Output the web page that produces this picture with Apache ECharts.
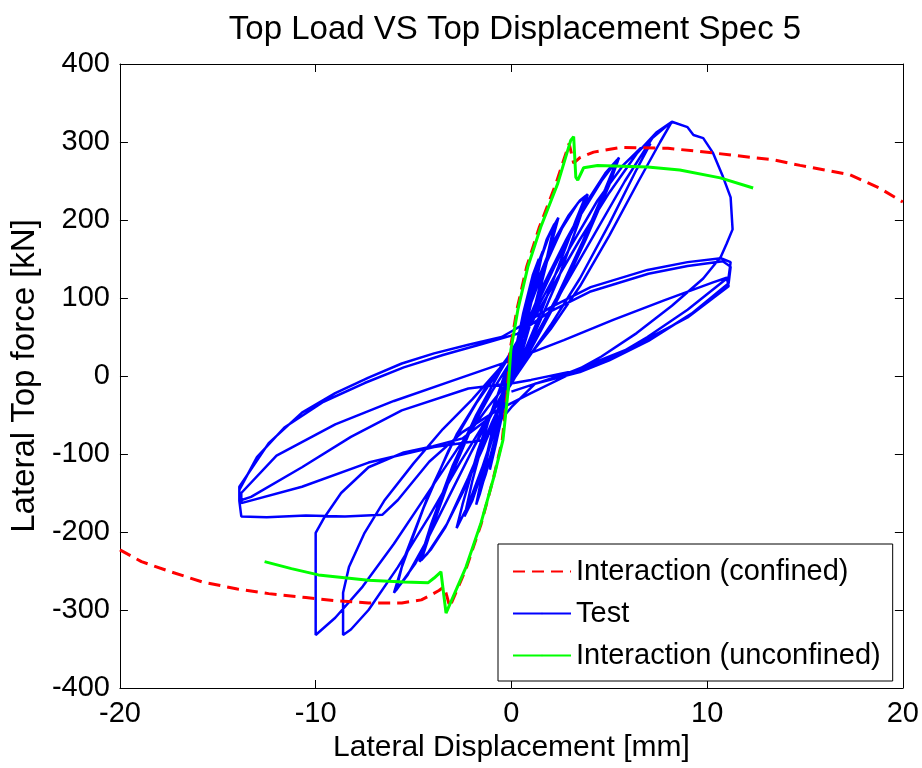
<!DOCTYPE html>
<html>
<head>
<meta charset="utf-8">
<script src="https://cdn.jsdelivr.net/npm/echarts@6/dist/echarts.min.js"></script>
<style>
html,body{margin:0;padding:0;background:#fff;}
#chart{width:922px;height:768px;}
</style>
</head>
<body>
<div id="chart"></div>
<script>
// ---- data (x: lateral displacement [mm], y: lateral top force [kN]) ----
var titleText = 'Top Load VS Top Displacement Spec 5';
var xAxisName = 'Lateral Displacement [mm]';
var yAxisName = 'Lateral Top force [kN]';
var seriesNames = ['Interaction (confined)', 'Test', 'Interaction (unconfined)'];
var xRange = [-20, 20, 10];
var yRange = [-400, 400, 100];

var confinedCurve = [
  [-20,-223],[-18.9,-238],[-17.4,-251],[-15.8,-264],[-14,-273],[-12.4,-279],[-10.5,-284],[-9.0,-288],
  [-7.3,-291],[-5.6,-291],[-4.6,-287],[-4.2,-282],[-3.7,-275],[-3.44,-270],[-3.3,-282],[-3.15,-296],
  [-2.3,-246],[-1.55,-190],[-0.92,-131],[-0.47,-83],[-0.22,-22],[-0.07,33],[0.28,85],[0.78,140],
  [1.43,191],[2.28,247],[2.95,298],[3.03,299],[3.18,273],[3.5,280],[4.2,287],[5.6,293],[8.0,292],
  [10.3,286],[13.4,277],[14.75,270],[17.3,258],[18.8,241],[20,223]
];

var unconfinedCurve = [
  [-12.61,-238],[-11.24,-247],[-9.86,-255],[-7.31,-262],[-5.5,-264],[-4.25,-265],[-3.95,-259],
  [-3.6,-251],[-3.34,-304],[-2.32,-245],[-1.55,-188],[-0.89,-129],[-0.43,-82],[-0.18,-22],
  [-0.03,33],[0.33,85],[0.84,140],[1.5,191],[2.37,247],[3.03,302],[3.18,307],[3.29,255],
  [3.39,251],[3.69,267],[4.4,270],[6.96,268],[8.6,264],[10.67,254],[12.35,241]
];

var testCurve = [
  // small cycles
  [0,0],[0.3,45],[0.7,90],[1.0,118],[0.8,92],[0.4,40],[0.0,0],[-0.4,-42],[-0.8,-88],[-1.1,-120],[-0.9,-92],[-0.5,-45],[-0.1,-5],
  [0.2,30],[0.6,80],[1.1,130],[1.4,150],[1.1,110],[0.5,45],[-0.2,-15],[-0.7,-70],[-1.3,-125],[-1.5,-140],[-1.2,-100],[-0.6,-35],[0.0,10],
  [0.3,38],[0.8,95],[1.3,140],[1.6,160],[1.3,125],[0.7,60],[0.1,5],[-0.5,-48],[-1.1,-105],[-1.6,-150],[-1.8,-165],[-1.5,-128],[-0.9,-62],[-0.3,-8],
  [0.5,60],[1.2,125],[1.8,175],[2.2,195],[1.8,150],[1.0,70],[0.2,10],[-0.6,-50],[-1.4,-115],[-2.0,-160],[-2.4,-180],[-2.0,-135],[-1.2,-60],[-0.3,5],
  [0.3,42],[0.9,100],[1.5,150],[2.0,185],[2.4,203],[2.1,175],[1.4,105],[0.6,35],[-0.1,-12],[-0.8,-65],[-1.5,-118],[-2.2,-165],[-2.8,-195],[-2.5,-165],[-1.7,-95],[-0.8,-30],[0.0,15],
  // +3.8 / -4.6
  [0.6,65],[1.3,120],[2.1,170],[2.9,205],[3.5,225],[3.8,231],[3.3,200],[2.4,140],[1.4,75],[0.4,15],[-0.5,-35],[-1.5,-95],[-2.5,-150],[-3.4,-195],[-4.1,-222],[-4.6,-236],[-4.2,-205],[-3.2,-135],[-2.1,-70],[-1.0,-20],[0.0,20],
  [0.8,80],[1.7,140],[2.6,190],[3.4,222],[3.9,233],[3.4,195],[2.4,125],[1.2,55],[0.1,0],[-1.0,-60],[-2.2,-130],[-3.3,-190],[-4.3,-228],[-4.7,-238],[-4.1,-190],[-3.0,-115],[-1.8,-50],[-0.6,5],
  // +5.4 / -6.0
  [0.5,50],[1.6,115],[2.8,175],[3.9,225],[4.8,260],[5.4,277],[4.8,240],[3.6,170],[2.3,100],[1.0,40],[-0.3,-15],[-1.6,-75],[-3.0,-145],[-4.3,-210],[-5.3,-255],[-6.0,-278],[-5.6,-245],[-4.5,-170],[-3.2,-95],[-1.8,-35],[-0.4,15],
  [0.9,70],[2.2,140],[3.5,205],[4.6,250],[5.5,280],[5.0,245],[3.8,175],[2.4,100],[0.9,30],[-0.6,-30],[-2.1,-100],[-3.6,-175],[-4.9,-240],[-5.9,-275],[-5.5,-235],[-4.2,-150],[-2.8,-75],[-1.2,-10],
  // +7.1 / -8.6
  [0.2,35],[1.6,100],[3.0,165],[4.4,225],[5.7,270],[6.6,292],[7.1,298],[6.4,265],[5.0,195],[3.5,125],[2.0,65],[0.5,10],[-1.0,-45],[-2.6,-110],[-4.2,-180],[-5.8,-245],[-7.3,-300],[-8.2,-325],[-8.6,-332],[-8.6,-300],[-8.6,-278],[-8.3,-245],[-7.5,-201],[-6.5,-160],[-5.0,-112],[-3.5,-68],[-2.0,-30],[-0.6,10],
  // +8.2 peak / -10
  [0.6,50],[2.0,110],[3.5,175],[5.0,235],[6.4,285],[7.4,312],[8.2,326],[7.6,300],[6.5,250],[5.0,180],[3.5,115],[2.0,60],[0.4,10],[-1.2,-40],[-2.8,-95],[-4.4,-155],[-6.0,-215],[-7.6,-270],[-9.0,-310],[-10.0,-332],[-10.0,-290],[-10.0,-240],[-10.0,-201],[-9.55,-181],[-8.7,-150],[-7.3,-117],[-5.5,-98],[-4.0,-90],[-2.5,-80],[-1.2,-55],
  // post-peak +11.3 / -13.8 plateau
  [0.0,-10],[1.2,45],[2.6,110],[4.2,180],[5.8,250],[7.2,305],[8.0,322],[8.2,326],[9.0,319],[9.3,309],[9.8,305],[10.3,286],[10.8,256],[11.2,229],[11.3,188],[11.0,170],[10.7,153],[9.8,125],[8.2,90],[6.4,55],[4.6,25],[2.8,0],[1.0,-22],[-0.8,-45],[-2.5,-72],[-4.2,-110],[-5.8,-159],[-6.6,-178],[-8.5,-180],[-10.5,-179],[-12.5,-181],[-13.8,-180],[-13.9,-160],[-13.9,-142],
  [-12.4,-86],[-10.7,-47],[-9.0,-22],[-7.3,-2],[-5.6,16],[-3.95,29],[-2.2,40],[-0.5,50],[0.13,59],[2.0,88],[4.05,114],[6.95,136],[9.0,146],[10.7,151],[11.2,146],[11.1,127],
  [9.0,85],[6.95,50],[5.2,24],[3.5,8],[1.0,-5],[0.13,-9],[-2.2,-16],[-5.6,-44],[-8.2,-78],[-10.7,-117],[-13.3,-155],[-13.9,-160],[-13.9,-146],
  [-13.0,-104],[-11.6,-66],[-9.6,-33],[-7.5,-9],[-5.5,11],[-3.5,27],[-1.5,41],[0.3,54],[2.0,83],[4.0,108],[7.0,131],[9.0,141],[10.8,147],[11.2,140],[11.1,119],
  [9.2,80],[7.0,45],[5.0,20],[3.5,5],[1.2,-10],[0.0,-40],[-1.4,-82],[-3.95,-91],[-7.3,-111],[-10.7,-142],[-13.8,-163],[-13.8,-150],
  [-12.0,-102],[-9.0,-62],[-6.0,-32],[-3.0,-6],[0.0,20],[2.68,46],[5.2,72],[7.8,97],[10.3,120],[11.0,126],[11.1,115],
  [9.0,75],[6.0,35],[3.0,5],[0.0,-20]
];

var chart = echarts.init(document.getElementById('chart'), null, {renderer: 'canvas'});
var FONT = 'Liberation Sans, Arial, Helvetica, sans-serif';

function frameAxis(pos, rng, isX, main) {
  var ax = {
    type: 'value', position: pos, min: rng[0], max: rng[1], interval: rng[2],
    axisLine: {show: true, onZero: false, lineStyle: {color: '#000', width: 1}},
    axisTick: {show: true, inside: true, length: 8, lineStyle: {color: '#000', width: 1}},
    splitLine: {show: false},
    axisLabel: {show: main, color: '#000', fontSize: 29, fontFamily: FONT, margin: isX ? 11 : 10}
  };
  if (main) {
    ax.name = isX ? xAxisName : yAxisName;
    ax.nameLocation = 'middle';
    ax.nameGap = isX ? 38 : 63;
    ax.nameTextStyle = {color: '#000', fontSize: isX ? 30 : 33, fontFamily: FONT};
  }
  return ax;
}

chart.setOption({
  animation: false,
  backgroundColor: '#fff',
  title: {
    text: titleText, left: 510, top: 8, textAlign: 'center',
    textStyle: {color: '#000', fontSize: 33, fontWeight: 'normal', fontFamily: FONT}
  },
  grid: {left: 118, right: 19, top: 64, bottom: 80, containLabel: false},
  xAxis: [frameAxis('bottom', xRange, true, true), frameAxis('top', xRange, true, false)],
  yAxis: [frameAxis('left', yRange, false, true), frameAxis('right', yRange, false, false)],
  legend: {
    data: seriesNames,
    orient: 'vertical', left: 498, top: 544,
    padding: [12, 12, 10, 14],
    itemWidth: 58, itemHeight: 2, itemGap: 11,
    borderColor: '#000', borderWidth: 1, backgroundColor: '#fff',
    textStyle: {color: '#000', fontSize: 29, fontFamily: FONT, lineHeight: 31}
  },
  series: [
    {
      name: seriesNames[1], type: 'line', data: testCurve, xAxisIndex: 0, yAxisIndex: 0,
      symbol: 'none', showSymbol: false, z: 2,
      lineStyle: {color: '#0000ff', width: 2.5}, itemStyle: {color: '#0000ff'}
    },
    {
      name: seriesNames[0], type: 'line', data: confinedCurve, xAxisIndex: 0, yAxisIndex: 0,
      symbol: 'none', showSymbol: false, z: 3,
      lineStyle: {color: '#ff0000', width: 3, type: [12, 7]}, itemStyle: {color: '#ff0000'}
    },
    {
      name: seriesNames[2], type: 'line', data: unconfinedCurve, xAxisIndex: 0, yAxisIndex: 0,
      symbol: 'none', showSymbol: false, z: 4,
      lineStyle: {color: '#00ff00', width: 3}, itemStyle: {color: '#00ff00'}
    }
  ]
});
</script>
</body>
</html>
